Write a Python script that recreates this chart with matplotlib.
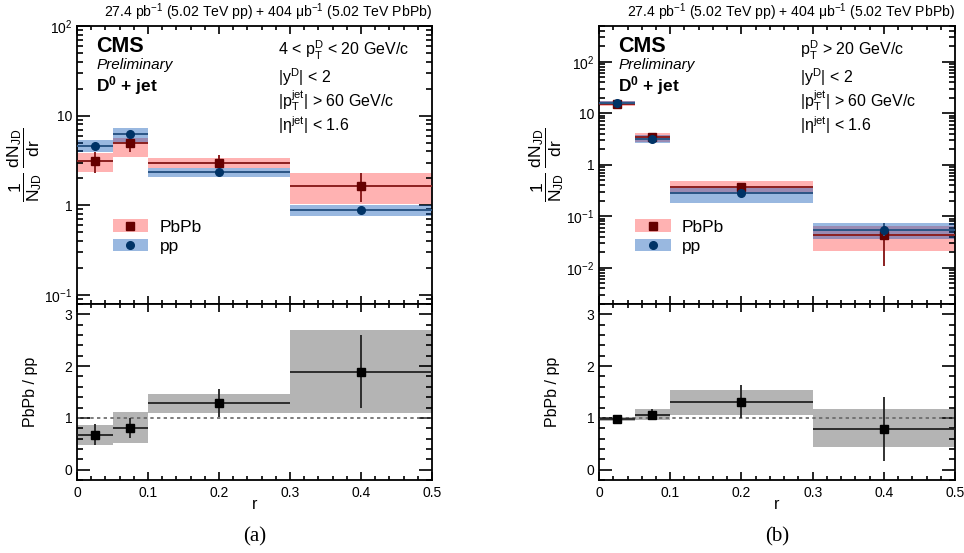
import matplotlib
matplotlib.use("Agg")
import matplotlib.pyplot as plt
import numpy as np
from matplotlib.ticker import MultipleLocator, FuncFormatter, NullFormatter, LogLocator
from matplotlib.patches import Patch
from matplotlib.lines import Line2D

plt.rcParams['font.family'] = ['Liberation Sans', 'DejaVu Sans']
plt.rcParams['mathtext.fontset'] = 'custom'
plt.rcParams['mathtext.rm'] = 'Liberation Sans'
plt.rcParams['mathtext.it'] = 'Liberation Sans'
plt.rcParams['mathtext.bf'] = 'Liberation Sans:bold'
plt.rcParams['mathtext.sf'] = 'Liberation Sans'

# ---------------- data ----------------
r_edges = [0.0, 0.05, 0.1, 0.3, 0.5]

# panel (a): 4 < pT^D < 20 GeV/c
pbpb_a = [3.15, 5.0, 2.95, 1.65]
pbpb_a_stat_lo = [2.3, 3.98, 2.7, 1.1]
pbpb_a_stat_hi = [3.9, 6.5, 3.6, 2.27]
pbpb_a_sys_lo = [2.33, 3.42, 2.64, 1.03]
pbpb_a_sys_hi = [3.88, 5.6, 3.33, 2.27]
pp_a = [4.6, 6.3, 2.33, 0.88]
pp_a_stat_lo = [4.35, 5.95, 2.25, 0.80]
pp_a_stat_hi = [4.85, 6.65, 2.41, 0.97]
pp_a_sys_lo = [3.98, 5.0, 2.05, 0.755]
pp_a_sys_hi = [5.4, 7.36, 2.58, 1.0]
ratio_a = [0.67, 0.81, 1.29, 1.88]
ratio_a_stat_lo = [0.48, 0.61, 1.02, 1.19]
ratio_a_stat_hi = [0.88, 1.0, 1.56, 2.6]
ratio_a_sys_lo = [0.48, 0.52, 1.10, 1.10]
ratio_a_sys_hi = [0.87, 1.12, 1.46, 2.69]

# panel (b): pT^D > 20 GeV/c
pbpb_b = [15.0, 3.55, 0.37, 0.0437]
pbpb_b_stat_lo = [13.8, 3.3, 0.34, 0.0109]
pbpb_b_stat_hi = [16.3, 3.85, 0.43, 0.072]
pbpb_b_sys_lo = [13.8, 2.75, 0.27, 0.0209]
pbpb_b_sys_hi = [17.5, 4.1, 0.49, 0.065]
pp_b = [16.2, 3.24, 0.28, 0.0547]
pp_b_stat_lo = [15.6, 3.1, 0.265, 0.042]
pp_b_stat_hi = [16.8, 3.4, 0.295, 0.074]
pp_b_sys_lo = [14.8, 2.7, 0.186, 0.0365]
pp_b_sys_hi = [17.5, 3.87, 0.36, 0.0737]
ratio_b = [0.975, 1.06, 1.31, 0.79]
ratio_b_stat_lo = [0.94, 0.95, 0.99, 0.17]
ratio_b_stat_hi = [1.01, 1.18, 1.63, 1.41]
ratio_b_sys_lo = [0.94, 0.95, 1.06, 0.43]
ratio_b_sys_hi = [1.02, 1.17, 1.54, 1.17]

lumi_text = r"27.4 pb$^{-1}$ (5.02 TeV pp) + 404 μb$^{-1}$ (5.02 TeV PbPb)"
cuts_a = [r"4 < p$_{T}^{D}$ < 20 GeV/c", r"|y$^{D}$| < 2", r"|p$_{T}^{jet}$| > 60 GeV/c", r"|η$^{jet}$| < 1.6"]
cuts_b = [r"p$_{T}^{D}$ > 20 GeV/c", r"|y$^{D}$| < 2", r"|p$_{T}^{jet}$| > 60 GeV/c", r"|η$^{jet}$| < 1.6"]

# ---------------- style ----------------
PINK = (1.0, 0.0, 0.0, 0.30)
BLUE = (0.0, 0.31, 0.70, 0.40)
GRAY = "#b4b4b4"
PB_LINE = "#8b2020"
PB_MARK = "#660000"
PP_LINE = "#2a5585"
PP_MARK = "#003366"

fig = plt.figure(figsize=(9.64, 5.53), dpi=100)

edges = np.array(r_edges)
centers = 0.5 * (edges[:-1] + edges[1:])
widths = np.diff(edges)
halfw = widths / 2


def log_fmt(v, pos):
    e = int(round(np.log10(v)))
    if e == 0:
        return "1"
    if e == 1:
        return "10"
    return r"$10^{%d}$" % e


def style_axes(ax):
    for s in ax.spines.values():
        s.set_linewidth(1.3)
    ax.tick_params(which='both', direction='in', top=True, right=True, width=1.2, labelsize=10)


def make_panel(x0, w, pb, pb_slo, pb_shi, pb_ylo, pb_yhi,
               pp, pp_slo, pp_shi, pp_ylo, pp_yhi,
               ra, ra_slo, ra_shi, ra_ylo, ra_yhi, ylim, cuts, caption):
    axt = fig.add_axes([x0, 0.4503, w, 0.5027])
    axb = fig.add_axes([x0, 0.1320, w, 0.3183])

    pb = np.array(pb); pp = np.array(pp); ra = np.array(ra)
    # systematic boxes
    axt.bar(edges[:-1], np.array(pb_yhi) - np.array(pb_ylo), width=widths, bottom=pb_ylo,
            align='edge', color=PINK, linewidth=0, zorder=1)
    axt.bar(edges[:-1], np.array(pp_yhi) - np.array(pp_ylo), width=widths, bottom=pp_ylo,
            align='edge', color=BLUE, linewidth=0, zorder=2)
    axt.errorbar(centers, pb, xerr=halfw, yerr=[pb - np.array(pb_slo), np.array(pb_shi) - pb],
                 fmt='s', color=PB_LINE, mfc=PB_MARK, mec=PB_MARK, ms=6, elinewidth=1.4,
                 capsize=0, zorder=3)
    axt.errorbar(centers, pp, xerr=halfw, yerr=[pp - np.array(pp_slo), np.array(pp_shi) - pp],
                 fmt='o', color=PP_LINE, mfc=PP_MARK, mec=PP_MARK, ms=5.5, elinewidth=1.4,
                 capsize=0, zorder=4)
    axt.set_yscale('log')
    axt.set_ylim(*ylim)
    axt.set_xlim(0, 0.5)
    axt.xaxis.set_major_locator(MultipleLocator(0.1))
    axt.xaxis.set_minor_locator(MultipleLocator(0.02))
    axt.yaxis.set_major_locator(LogLocator(base=10, numticks=20))
    axt.yaxis.set_minor_locator(LogLocator(base=10, subs=np.arange(2, 10), numticks=20))
    axt.yaxis.set_major_formatter(FuncFormatter(log_fmt))
    axt.yaxis.set_minor_formatter(NullFormatter())
    axt.tick_params(axis='x', labelbottom=False)
    style_axes(axt)
    axt.tick_params(axis='y', which='major', length=9.5)
    axt.tick_params(axis='y', which='minor', length=4.5)
    axt.tick_params(axis='x', which='major', length=6)
    axt.tick_params(axis='x', which='minor', length=3)
    axt.set_ylabel(r"$\dfrac{1}{N_{JD}}\ \dfrac{dN_{JD}}{dr}$", fontsize=12.5)
    axt.yaxis.set_label_coords(-0.092, 0.5)

    # legend
    h_pb = (Patch(facecolor=PINK, edgecolor='none'), Line2D([], [], marker='s', ls='none', color=PB_MARK, ms=6))
    h_pp = (Patch(facecolor=BLUE, edgecolor='none'), Line2D([], [], marker='o', ls='none', color=PP_MARK, ms=5.5))
    axt.legend([h_pb, h_pp], ["PbPb", "pp"], loc='upper left', bbox_to_anchor=(0.1, 0.304),
               frameon=False, fontsize=12.5, handlelength=2.07, handleheight=0.75,
               handletextpad=0.65, labelspacing=0.22, borderaxespad=0, borderpad=0)

    # texts
    axt.text(1.0, 1.012, lumi_text, transform=axt.transAxes, ha='right', va='bottom', fontsize=10.1)
    axt.text(0.054, 0.906, "CMS", transform=axt.transAxes, fontsize=15.5, fontweight='bold', va='baseline')
    axt.text(0.054, 0.846, "Preliminary", transform=axt.transAxes, fontsize=11, style='italic', va='baseline')
    axt.text(0.054, 0.766, r"$\mathbf{D^{0}}$ + jet", transform=axt.transAxes, fontsize=12.5,
             fontweight='bold', va='baseline')
    for t, yy in zip(cuts, [0.893, 0.794, 0.711, 0.621]):
        axt.text(0.565, yy, t, transform=axt.transAxes, fontsize=11.5, va='baseline')

    # ratio panel
    axb.bar(edges[:-1], np.array(ra_yhi) - np.array(ra_ylo), width=widths, bottom=ra_ylo,
            align='edge', color=GRAY, linewidth=0, zorder=1)
    axb.axhline(1.0, color='#666666', lw=1.2, ls=(0, (2, 2)), zorder=2)
    axb.errorbar(centers, ra, xerr=halfw, yerr=[ra - np.array(ra_slo), np.array(ra_shi) - ra],
                 fmt='s', color='#222222', mfc='black', mec='black', ms=6, elinewidth=1.3,
                 capsize=0, zorder=3)
    axb.set_xlim(0, 0.5)
    axb.set_ylim(-0.2, 3.2)
    axb.xaxis.set_major_locator(MultipleLocator(0.1))
    axb.xaxis.set_minor_locator(MultipleLocator(0.02))
    axb.yaxis.set_major_locator(MultipleLocator(1))
    axb.yaxis.set_minor_locator(MultipleLocator(0.2))
    axb.xaxis.set_major_formatter(FuncFormatter(lambda v, p: "0" if abs(v) < 1e-9 else ("%.1f" % v)))
    style_axes(axb)
    axb.tick_params(axis='y', which='major', length=9.5)
    axb.tick_params(axis='y', which='minor', length=4.5)
    axb.tick_params(axis='x', which='major', length=6, pad=4)
    axb.tick_params(axis='x', which='minor', length=3)
    axb.set_ylabel("PbPb / pp", fontsize=11.5, labelpad=19)
    axb.set_xlabel("r", fontsize=11.5, labelpad=-2)
    axb.text(0.5, -0.324, caption, transform=axb.transAxes, ha='center', va='center',
             fontsize=15, family=['Liberation Serif', 'DejaVu Serif'])
    return axt, axb


make_panel(0.0799, 0.3683, pbpb_a, pbpb_a_stat_lo, pbpb_a_stat_hi, pbpb_a_sys_lo, pbpb_a_sys_hi,
           pp_a, pp_a_stat_lo, pp_a_stat_hi, pp_a_sys_lo, pp_a_sys_hi,
           ratio_a, ratio_a_stat_lo, ratio_a_stat_hi, ratio_a_sys_lo, ratio_a_sys_hi,
           (0.0794, 100), cuts_a, "(a)")
make_panel(0.6214, 0.3693, pbpb_b, pbpb_b_stat_lo, pbpb_b_stat_hi, pbpb_b_sys_lo, pbpb_b_sys_hi,
           pp_b, pp_b_stat_lo, pp_b_stat_hi, pp_b_sys_lo, pp_b_sys_hi,
           ratio_b, ratio_b_stat_lo, ratio_b_stat_hi, ratio_b_sys_lo, ratio_b_sys_hi,
           (0.002, 500), cuts_b, "(b)")

fig.savefig("out.png", dpi=100)
